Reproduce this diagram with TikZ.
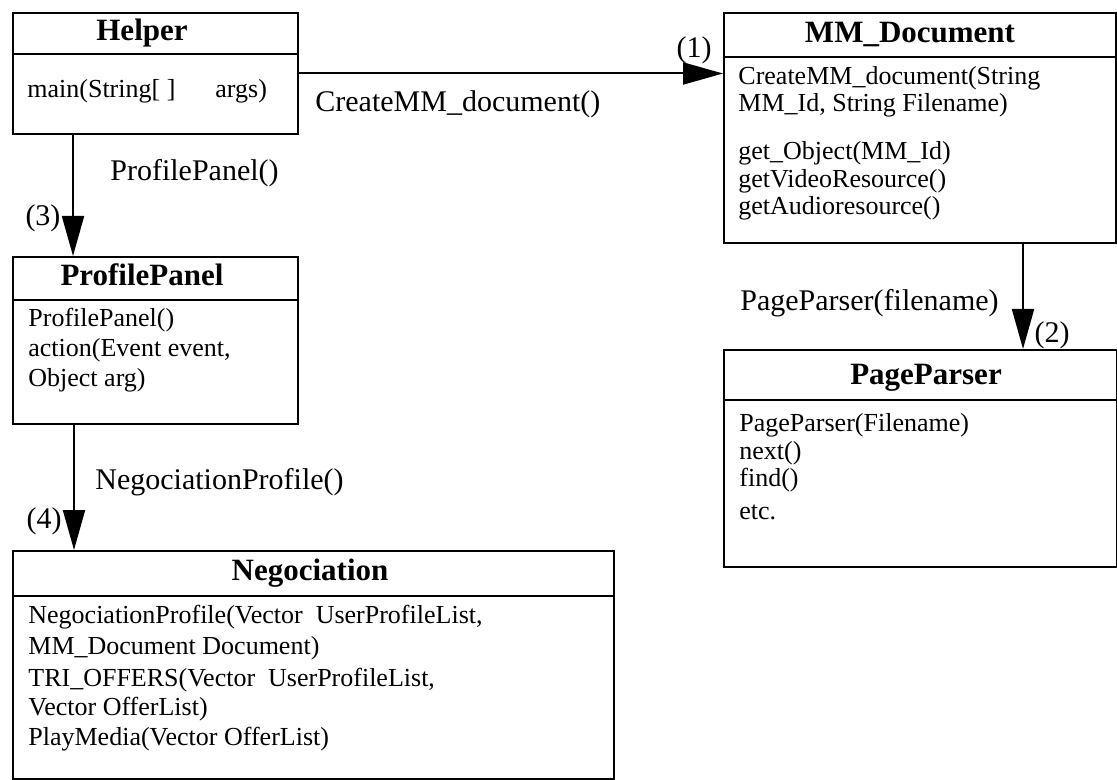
\documentclass[tikz,border=0pt]{standalone}
\usepackage{fontspec}
\setmainfont{Liberation Serif}
\usetikzlibrary{arrows.meta}

\tikzset{
  classbox/.style={draw, line width=1pt, anchor=north west, inner sep=0pt},
  divider/.style={line width=1pt},
  classtitle/.style={font=\fontsize{15.5}{18}\selectfont\bfseries, inner sep=0pt,
    text height=10.5pt, text depth=3pt},
  member/.style={font=\fontsize{13}{15}\selectfont, anchor=west, inner sep=0pt,
    text height=9.3pt, text depth=2.7pt},
  msglabel/.style={font=\fontsize{15}{18}\selectfont, inner sep=0pt,
    text height=10.7pt, text depth=3.1pt},
  call/.style={line width=1pt, -{Triangle[length=20pt,width=11pt]}},
}

\begin{document}
\begin{tikzpicture}[x=0.5pt,y=-0.5pt]
% canvas
\path[fill=white, use as bounding box] (0,0) rectangle (1117,780);

% ---------- Helper ----------
\node[classbox, minimum width=142.5pt, minimum height=60.5pt] (helper) at (12,12) {};
\draw[divider] ([yshift=-21pt]helper.north west) -- ([yshift=-21pt]helper.north east);
\node[classtitle] (helper-title) at (142,33) {Helper};
\node[member] (helper-m1) at (27,91) {main(String[ ]\hspace{20pt}args)};

% ---------- MM_Document ----------
\node[classbox, minimum width=196pt, minimum height=115pt] (mmdoc) at (723,12) {};
\draw[divider] ([yshift=-22.5pt]mmdoc.north west) -- ([yshift=-22.5pt]mmdoc.north east);
\node[classtitle] (mmdoc-title) at (910,35) {MM\_Document};
\foreach \txt/\yy [count=\i] in {{CreateMM\_document(String}/78,
    {MM\_Id, String Filename)}/105, {get\_Object(MM\_Id)}/153,
    {getVideoResource()}/181, {getAudioresource()}/208}
  \node[member] (mmdoc-m\i) at (738,\yy) {\txt};

% ---------- PageParser ----------
\node[classbox, minimum width=196.5pt, minimum height=108.5pt] (pager) at (723,349) {};
\draw[divider] ([yshift=-25.5pt]pager.north west) -- ([yshift=-25.5pt]pager.north east);
\node[classtitle] (pager-title) at (926,377) {PageParser};
\foreach \txt/\yy [count=\i] in {{PageParser(Filename)}/425, {next()}/453,
    {find()}/480, {etc.}/513}
  \node[member] (pager-m\i) at (739,\yy) {\txt};

% ---------- ProfilePanel ----------
\node[classbox, minimum width=142.5pt, minimum height=83.5pt] (profile) at (12,256) {};
\draw[divider] ([yshift=-22pt]profile.north west) -- ([yshift=-22pt]profile.north east);
\node[classtitle] (profile-title) at (142,278) {ProfilePanel};
\foreach \txt/\yy [count=\i] in {{ProfilePanel()}/320,
    {action(Event event,}/350, {Object arg)}/380}
  \node[member] (profile-m\i) at (28,\yy) {\txt};

% ---------- Negociation ----------
\node[classbox, minimum width=300.5pt, minimum height=114pt] (negot) at (12,550) {};
\draw[divider] ([yshift=-23pt]negot.north west) -- ([yshift=-23pt]negot.north east);
\node[classtitle] (negot-title) at (310,573) {Negociation};
\foreach \txt/\yy [count=\i] in {{NegociationProfile(Vector~~UserProfileList,}/617,
    {MM\_Document Document)}/648, {TRI\_OFFERS(Vector~~UserProfileList,}/680,
    {Vector OfferList)}/709, {PlayMedia(Vector OfferList)}/739}
  \node[member] (negot-m\i) at (28,\yy) {\txt};

% ---------- calls ----------
% (1) Helper -> MM_Document
\draw[call] (helper.east) -- (helper.east -| mmdoc.west);
\node[msglabel, anchor=west] (call1-label) at (315,104) {CreateMM\_document()};
\node[msglabel] (call1-num) at (694,50) {(1)};

% (2) MM_Document -> PageParser
\coordinate (c2s) at ([xshift=-47pt]mmdoc.south east);
\coordinate (c2e) at (c2s |- pager.north);
\draw[call] (c2s) -- (c2e);
\node[msglabel, anchor=west] (call2-label) at (740,303) {PageParser(filename)};
\node[msglabel] (call2-num) at (1052,335) {(2)};

% (3) Helper -> ProfilePanel
\coordinate (c3s) at ([xshift=30.5pt]helper.south west);
\coordinate (c3e) at (c3s |- profile.north);
\draw[call] (c3s) -- (c3e);
\node[msglabel, anchor=west] (call3-label) at (110,173) {ProfilePanel()};
\node[msglabel] (call3-num) at (43,218) {(3)};

% (4) ProfilePanel -> Negociation
\coordinate (c4s) at ([xshift=31pt]profile.south west);
\coordinate (c4e) at (c4s |- negot.north);
\draw[call] (c4s) -- (c4e);
\node[msglabel, anchor=west] (call4-label) at (95,482) {NegociationProfile()};
\node[msglabel] (call4-num) at (44,521) {(4)};
\end{tikzpicture}
\end{document}
